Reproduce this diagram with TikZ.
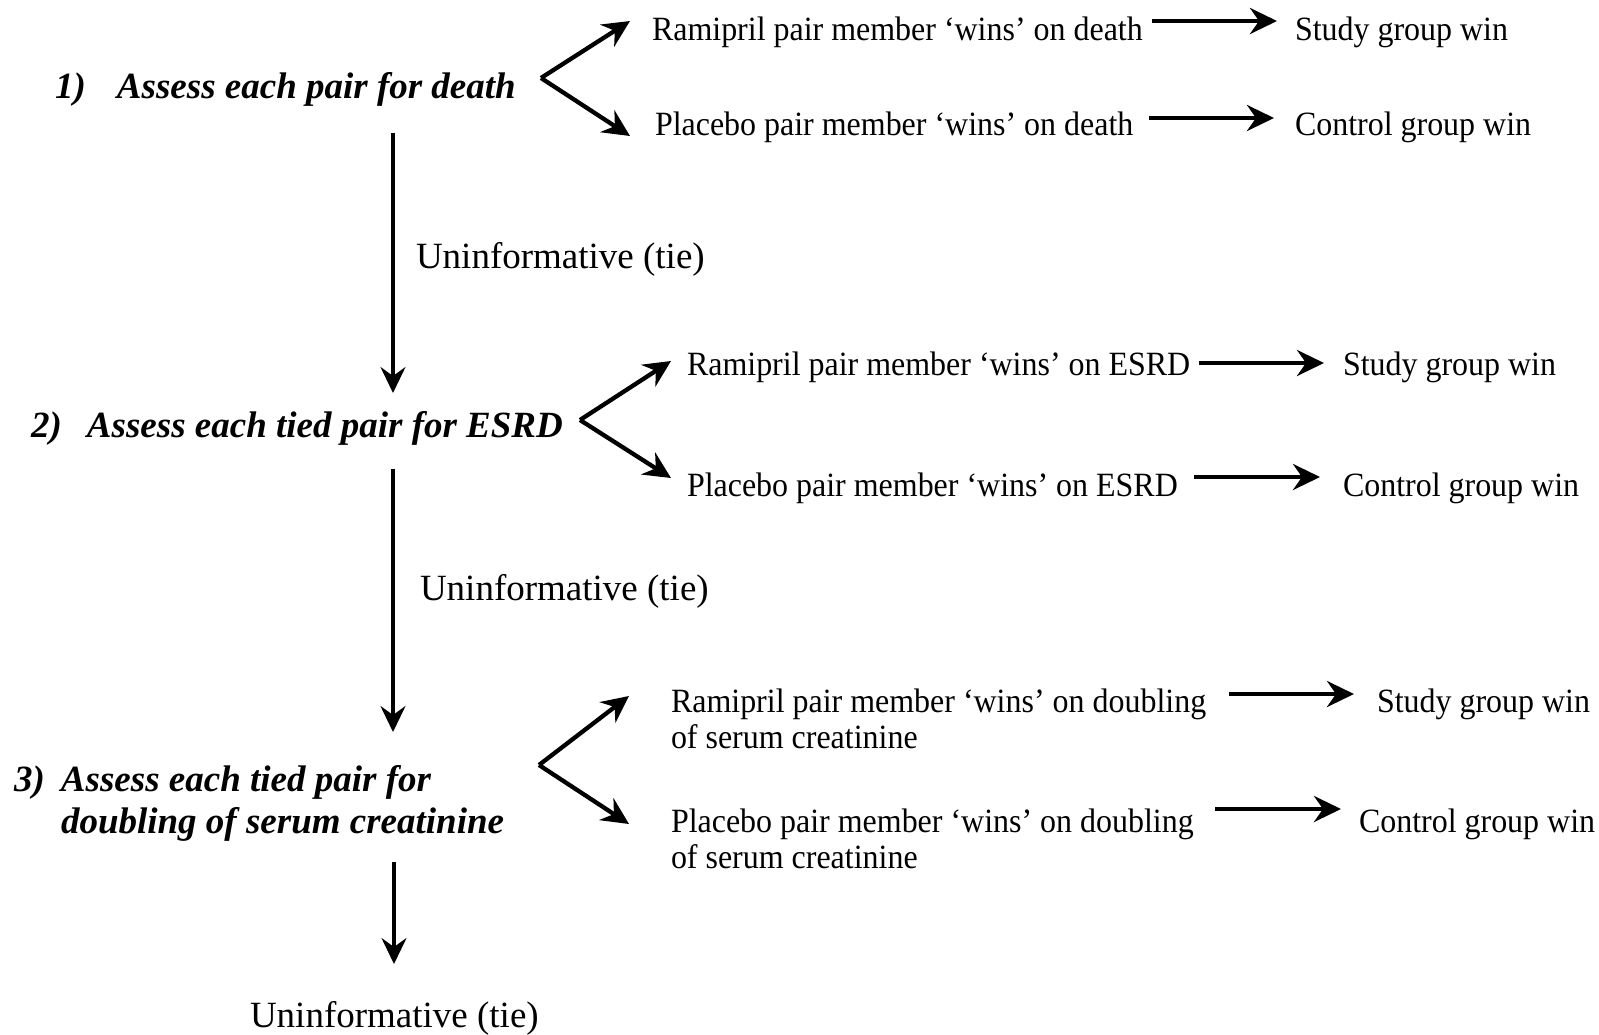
\documentclass[tikz,border=0pt]{standalone}
\usepackage{fontspec}
\setmainfont{Liberation Serif}
\newfontfamily\condserif[FakeStretch=0.94]{Liberation Serif}
\usetikzlibrary{arrows.meta}
\begin{document}
\begin{tikzpicture}[x=1pt,y=-1pt,
  txt/.style={anchor=base west, inner sep=0pt, outer sep=0pt, font=\fontsize{37}{37.5}\selectfont},
  outtxt/.style={anchor=base west, inner sep=0pt, outer sep=0pt, font=\condserif\fontsize{34}{36.5}\selectfont},
  steptxt/.style={anchor=base west, inner sep=0pt, outer sep=0pt, font=\fontsize{37}{42}\selectfont\bfseries\itshape},
  arr/.style={line width=4.3pt, -{Stealth[length=27pt,width=26pt,inset=9pt]}},
  varr/.style={line width=3.2pt, -{Stealth[length=26pt,width=25pt,inset=9pt]}}]
\useasboundingbox (0,0) rectangle (1599,1034);

% ---------- step 1 ----------
\node[steptxt] (s1) at (117,98) {\llap{1)\hspace{31pt}}Assess each pair for death};
\node[outtxt] (r1a) at (652,40) {Ramipril pair member ‘wins’ on death};
\node[outtxt] (r1b) at (655,135) {Placebo pair member ‘wins’ on death};
\node[outtxt] (w1a) at (1295,40) {Study group win};
\node[outtxt] (w1b) at (1295,135) {Control group win};
\coordinate (c1v) at (541,78);
\coordinate (c1a) at (630,21);
\coordinate (c1b) at (630,136);
\draw[arr] (c1v) -- (c1a);
\draw[arr] (c1v) -- (c1b);
\coordinate (h1as) at (1152,21);
\coordinate (h1ae) at (1277,21);
\coordinate (h1bs) at (1149,118);
\coordinate (h1be) at (1274,118);
\draw[arr] (h1as) -- (h1ae);
\draw[arr] (h1bs) -- (h1be);
\coordinate (v1s) at (393,133);
\coordinate (v1e) at (393,393);
\draw[varr] (v1s) -- (v1e);
\node[txt] (u1) at (416,268) {Uninformative (tie)};

% ---------- step 2 ----------
\node[steptxt] (s2) at (87,437) {\llap{2)\hspace{25pt}}Assess each tied pair for ESRD};
\node[outtxt] (r2a) at (687,375) {Ramipril pair member ‘wins’ on ESRD};
\node[outtxt] (r2b) at (687,496) {Placebo pair member ‘wins’ on ESRD};
\node[outtxt] (w2a) at (1343,375) {Study group win};
\node[outtxt] (w2b) at (1343,496) {Control group win};
\coordinate (c2v) at (580,420);
\coordinate (c2a) at (671,361);
\coordinate (c2b) at (671,478);
\draw[arr] (c2v) -- (c2a);
\draw[arr] (c2v) -- (c2b);
\coordinate (h2as) at (1199,363);
\coordinate (h2ae) at (1324,363);
\coordinate (h2bs) at (1194,477);
\coordinate (h2be) at (1320,477);
\draw[arr] (h2as) -- (h2ae);
\draw[arr] (h2bs) -- (h2be);
\coordinate (v2s) at (393,469);
\coordinate (v2e) at (393,732);
\draw[varr] (v2s) -- (v2e);
\node[txt] (u2) at (420,600) {Uninformative (tie)};

% ---------- step 3 ----------
\node[steptxt] (s3) at (61,791) {\vtop{\hbox{\llap{3)\hspace{16pt}}Assess each tied pair for}\hbox{doubling of serum creatinine}}};
\node[outtxt] (r3a) at (671,712) {\vtop{\hbox{Ramipril pair member ‘wins’ on doubling}\hbox{of serum creatinine}}};
\node[outtxt] (r3b) at (671,832) {\vtop{\hbox{Placebo pair member ‘wins’ on doubling}\hbox{of serum creatinine}}};
\node[outtxt] (w3a) at (1377,712) {Study group win};
\node[outtxt] (w3b) at (1359,832) {Control group win};
\coordinate (c3v) at (539,765);
\coordinate (c3a) at (629,696);
\coordinate (c3b) at (629,824);
\draw[arr] (c3v) -- (c3a);
\draw[arr] (c3v) -- (c3b);
\coordinate (h3as) at (1229,694);
\coordinate (h3ae) at (1354,694);
\coordinate (h3bs) at (1215,809);
\coordinate (h3be) at (1341,809);
\draw[arr] (h3as) -- (h3ae);
\draw[arr] (h3bs) -- (h3be);
\coordinate (v3s) at (394,862);
\coordinate (v3e) at (394,964);
\draw[varr] (v3s) -- (v3e);
\node[txt] (u3) at (250,1027) {Uninformative (tie)};
\end{tikzpicture}
\end{document}
